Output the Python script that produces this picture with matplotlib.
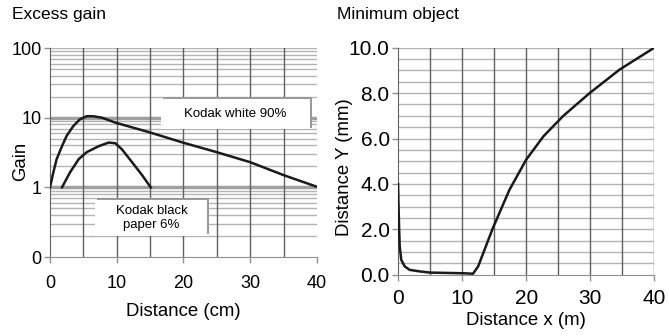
import matplotlib
matplotlib.use("Agg")
import matplotlib.pyplot as plt
from matplotlib.patches import Rectangle
import numpy as np

plt.rcParams['font.family'] = ['Liberation Sans', 'DejaVu Sans']

# excess gain vs distance (cm)
white_x = [0, 0.5, 1.0, 1.8, 2.5, 3.5, 4.5, 5.5, 6.5, 7.8, 9.8, 15.1, 19.9, 25, 30, 35, 40]
white_gain = [1.0, 1.64, 2.54, 3.9, 5.5, 7.6, 9.5, 10.5, 10.5, 10.0, 8.5, 6.1, 4.4, 3.2, 2.3, 1.5, 1.02]
black_x = [1.8, 3.0, 4.3, 5.5, 7.3, 8.8, 9.8, 10.8, 12.3, 13.8, 15.1]
black_gain = [1.0, 1.64, 2.54, 3.2, 3.9, 4.4, 4.3, 3.5, 2.3, 1.5, 1.0]
gain_ticks = [0.1, 1, 10, 100]
gain_labels = ["0", "1", "10", "100"]

# minimum detectable object vs distance (m)
obj_x = [0, 0.05, 0.16, 0.26, 0.5, 1.04, 1.8, 3.4, 5, 10.2, 11.7, 12.5, 14.8, 17.4, 20, 22.7, 25.8, 29.9, 34.6, 40]
obj_y = [4.0, 3.3, 2.1, 1.25, 0.66, 0.37, 0.22, 0.15, 0.1, 0.07, 0.05, 0.37, 2.06, 3.75, 5.07, 6.1, 7.0, 8.0, 9.04, 10.0]

fig = plt.figure(figsize=(6.69, 3.36), dpi=100)
ax1 = fig.add_axes([0.0747, 0.235, 0.399, 0.622])
ax2 = fig.add_axes([0.595, 0.182, 0.383, 0.676])

light = "#b4b4b4"
dark = "#606060"
ink = "#1a1a1a"

# --- left: excess gain ---
ax1.set_yscale("log")
ax1.set_xlim(0, 40)
ax1.set_ylim(0.1, 100)
for dec in [0.1, 1, 10]:
    for m in range(2, 10):
        ax1.axhline(dec * m, color=light, lw=1.0, zorder=0)
for v in [1, 10]:
    ax1.axhline(v, color="#a0a0a0", lw=2.5, zorder=0)
ax1.axhline(100, color=light, lw=1.0, zorder=0)
for xv in range(5, 40, 5):
    ax1.axvline(xv, color=dark, lw=1.0, zorder=0)
ax1.plot(white_x, white_gain, color=ink, lw=1.8, zorder=3)
ax1.plot(black_x, black_gain, color=ink, lw=1.8, zorder=3)
ax1.set_xticks([0, 10, 20, 30, 40])
ax1.set_yticks(gain_ticks)
ax1.set_yticklabels(gain_labels)
ax1.minorticks_off()
ax1.tick_params(axis="both", labelsize=13)
ax1.tick_params(axis="x", pad=9)
ax1.set_xlabel("Distance (cm)", fontsize=13.4, labelpad=8)
ax1.set_ylabel("Gain", fontsize=13.4, va="center")
ax1.yaxis.set_label_coords(-0.109, 0.46)
fig.text(12 / 669, 1 - 15 / 336, "Excess gain", fontsize=12.5, va="center")

# label boxes with a grey shadow edge
def label_box(ax, x0, x1, y0, y1, text):
    ax.add_patch(Rectangle((x0 + 0.3, y0 * 1.06), x1 - x0, y1 * 1.06 - y0 * 1.06,
                           facecolor="#9a9a9a", edgecolor="none", zorder=4))
    ax.add_patch(Rectangle((x0, y0), x1 - x0, y1 - y0, facecolor="white",
                           edgecolor="none", zorder=5))
    ax.text((x0 + x1) / 2, np.sqrt(y0 * y1), text, ha="center", va="center",
            fontsize=9.5, zorder=6, linespacing=1.3)

label_box(ax1, 16.6, 39.0, 6.8, 18.5, "Kodak white 90%")
label_box(ax1, 6.8, 23.6, 0.2, 0.66, "Kodak black\npaper 6%")

# --- right: minimum object ---
ax2.set_xlim(0, 40)
ax2.set_ylim(0, 10)
for yv in np.arange(0.5, 10.01, 0.5):
    ax2.axhline(yv, color=light, lw=1.0, zorder=0)
for xv in range(5, 45, 5):
    ax2.axvline(xv, color=dark, lw=1.0, zorder=0)
ax2.plot(obj_x, obj_y, color=ink, lw=1.8, zorder=3)
ax2.set_xticks([0, 10, 20, 30, 40])
ax2.set_yticks([0, 2, 4, 6, 8, 10])
ax2.set_yticklabels(["0.0", "2.0", "4.0", "6.0", "8.0", "10.0"])
ax2.tick_params(axis="both", labelsize=15)
ax2.tick_params(axis="x", pad=6)
ax2.set_xlabel("Distance x (m)", fontsize=13.4, labelpad=3)
ax2.set_ylabel("Distance Y (mm)", fontsize=13.4, va="center")
ax2.yaxis.set_label_coords(-0.21, 0.476)
fig.text(337 / 669, 1 - 14 / 336, "Minimum object", fontsize=12.5, va="center")

for ax in (ax1, ax2):
    for side in ["top", "right"]:
        ax.spines[side].set_visible(False)
    ax.spines["left"].set_color(dark)
    ax.spines["bottom"].set_color("#909090")
    ax.tick_params(length=4, color="#909090", width=1.0)
    ax.tick_params(axis="y", pad=2)
    ax.set_facecolor("white")

fig.savefig("out.png", dpi=100, facecolor="white")
